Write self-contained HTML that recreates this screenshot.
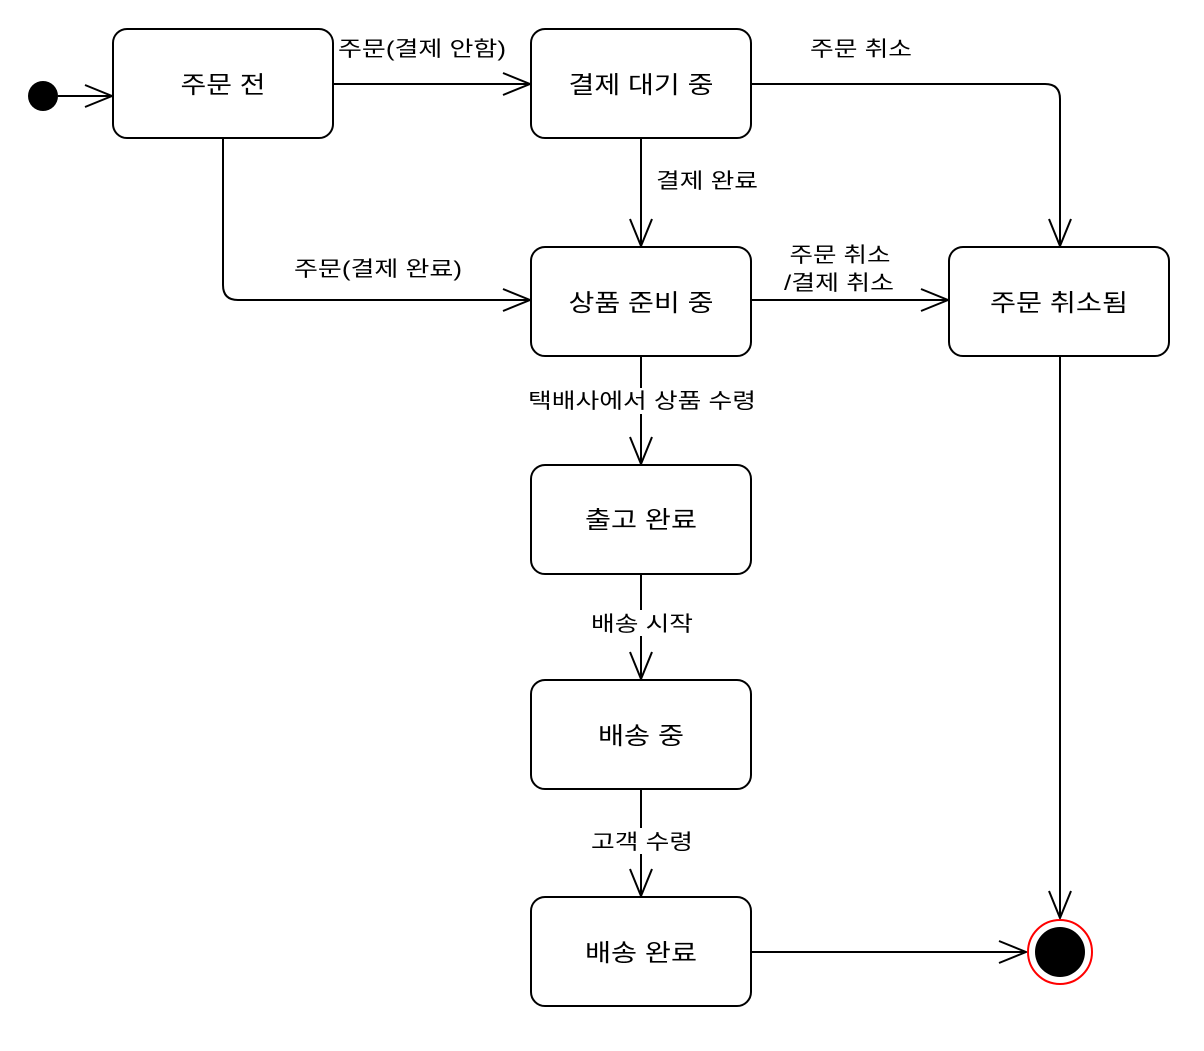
<!DOCTYPE html>
<html><head><meta charset="utf-8"><style>
body{margin:0;background:#fff;}
svg text{font-family:"Liberation Sans","Noto Sans CJK KR",sans-serif;fill:#000;}
</style></head><body>
<svg width="1204" height="1046" viewBox="0 0 1204 1046" xmlns="http://www.w3.org/2000/svg">
<defs>
<marker id="a" markerWidth="30" markerHeight="24" refX="28" refY="12" orient="auto" markerUnits="userSpaceOnUse">
<path d="M1,1 L28,12 L1,23" fill="none" stroke="#000" stroke-width="2"/>
</marker>
</defs>
<g fill="none" stroke="#000" stroke-width="2">
<path d="M58,96 H112" marker-end="url(#a)"/>
<path d="M333,84 H530" marker-end="url(#a)"/>
<path d="M751,84 H1045 Q1060,84 1060,99 V246" marker-end="url(#a)"/>
<path d="M641,138 V246" marker-end="url(#a)"/>
<path d="M223,138 V285 Q223,300 238,300 H530" marker-end="url(#a)"/>
<path d="M751,300 H948" marker-end="url(#a)"/>
<path d="M641,356 V464" marker-end="url(#a)"/>
<path d="M641,574 V679" marker-end="url(#a)"/>
<path d="M641,789 V896" marker-end="url(#a)"/>
<path d="M1060,356 V918" marker-end="url(#a)"/>
<path d="M751,952 H1026" marker-end="url(#a)"/>
</g>
<g fill="#fff" stroke="#000" stroke-width="2">
<rect x="113" y="29" width="220" height="109" rx="14"/>
<rect x="531" y="29" width="220" height="109" rx="14"/>
<rect x="531" y="247" width="220" height="109" rx="14"/>
<rect x="949" y="247" width="220" height="109" rx="14"/>
<rect x="531" y="465" width="220" height="109" rx="14"/>
<rect x="531" y="680" width="220" height="109" rx="14"/>
<rect x="531" y="897" width="220" height="109" rx="14"/>
</g>
<circle cx="43" cy="96" r="15" fill="#000"/>
<circle cx="1060" cy="952" r="32" fill="#fff" stroke="#f00" stroke-width="2"/>
<circle cx="1060" cy="952" r="25" fill="#000"/>
<g font-size="24" text-anchor="middle" lengthAdjust="spacingAndGlyphs">
<text x="223" y="93" textLength="85" lengthAdjust="spacingAndGlyphs">주문 전</text>
<text x="641" y="93" textLength="145" lengthAdjust="spacingAndGlyphs">결제 대기 중</text>
<text x="641" y="311" textLength="145" lengthAdjust="spacingAndGlyphs">상품 준비 중</text>
<text x="1059" y="311" textLength="138" lengthAdjust="spacingAndGlyphs">주문 취소됨</text>
<text x="641" y="528" textLength="112" lengthAdjust="spacingAndGlyphs">출고 완료</text>
<text x="641" y="744" textLength="86" lengthAdjust="spacingAndGlyphs">배송 중</text>
<text x="641" y="961" textLength="112" lengthAdjust="spacingAndGlyphs">배송 완료</text>
</g>
<g font-size="21" text-anchor="middle">
<rect x="335" y="35" width="174" height="28" fill="#fff"/>
<text x="422" y="56" textLength="168" lengthAdjust="spacingAndGlyphs">주문(결제 안함)</text>
<text x="861" y="56" textLength="102" lengthAdjust="spacingAndGlyphs">주문 취소</text>
<text x="707" y="188" textLength="102" lengthAdjust="spacingAndGlyphs">결제 완료</text>
<text x="378" y="276" textLength="168" lengthAdjust="spacingAndGlyphs">주문(결제 완료)</text>
<text x="840" y="262" textLength="101" lengthAdjust="spacingAndGlyphs">주문 취소</text>
<text x="839" y="290" textLength="110" lengthAdjust="spacingAndGlyphs">/결제 취소</text>
<rect x="526" y="388" width="232" height="26" fill="#fff"/>
<text x="642" y="408" textLength="228" lengthAdjust="spacingAndGlyphs">택배사에서 상품 수령</text>
<rect x="588" y="610" width="106" height="26" fill="#fff"/>
<text x="642" y="631" textLength="102" lengthAdjust="spacingAndGlyphs">배송 시작</text>
<rect x="588" y="828" width="106" height="26" fill="#fff"/>
<text x="642" y="849" textLength="102" lengthAdjust="spacingAndGlyphs">고객 수령</text>
</g>
</svg>
</body></html>
